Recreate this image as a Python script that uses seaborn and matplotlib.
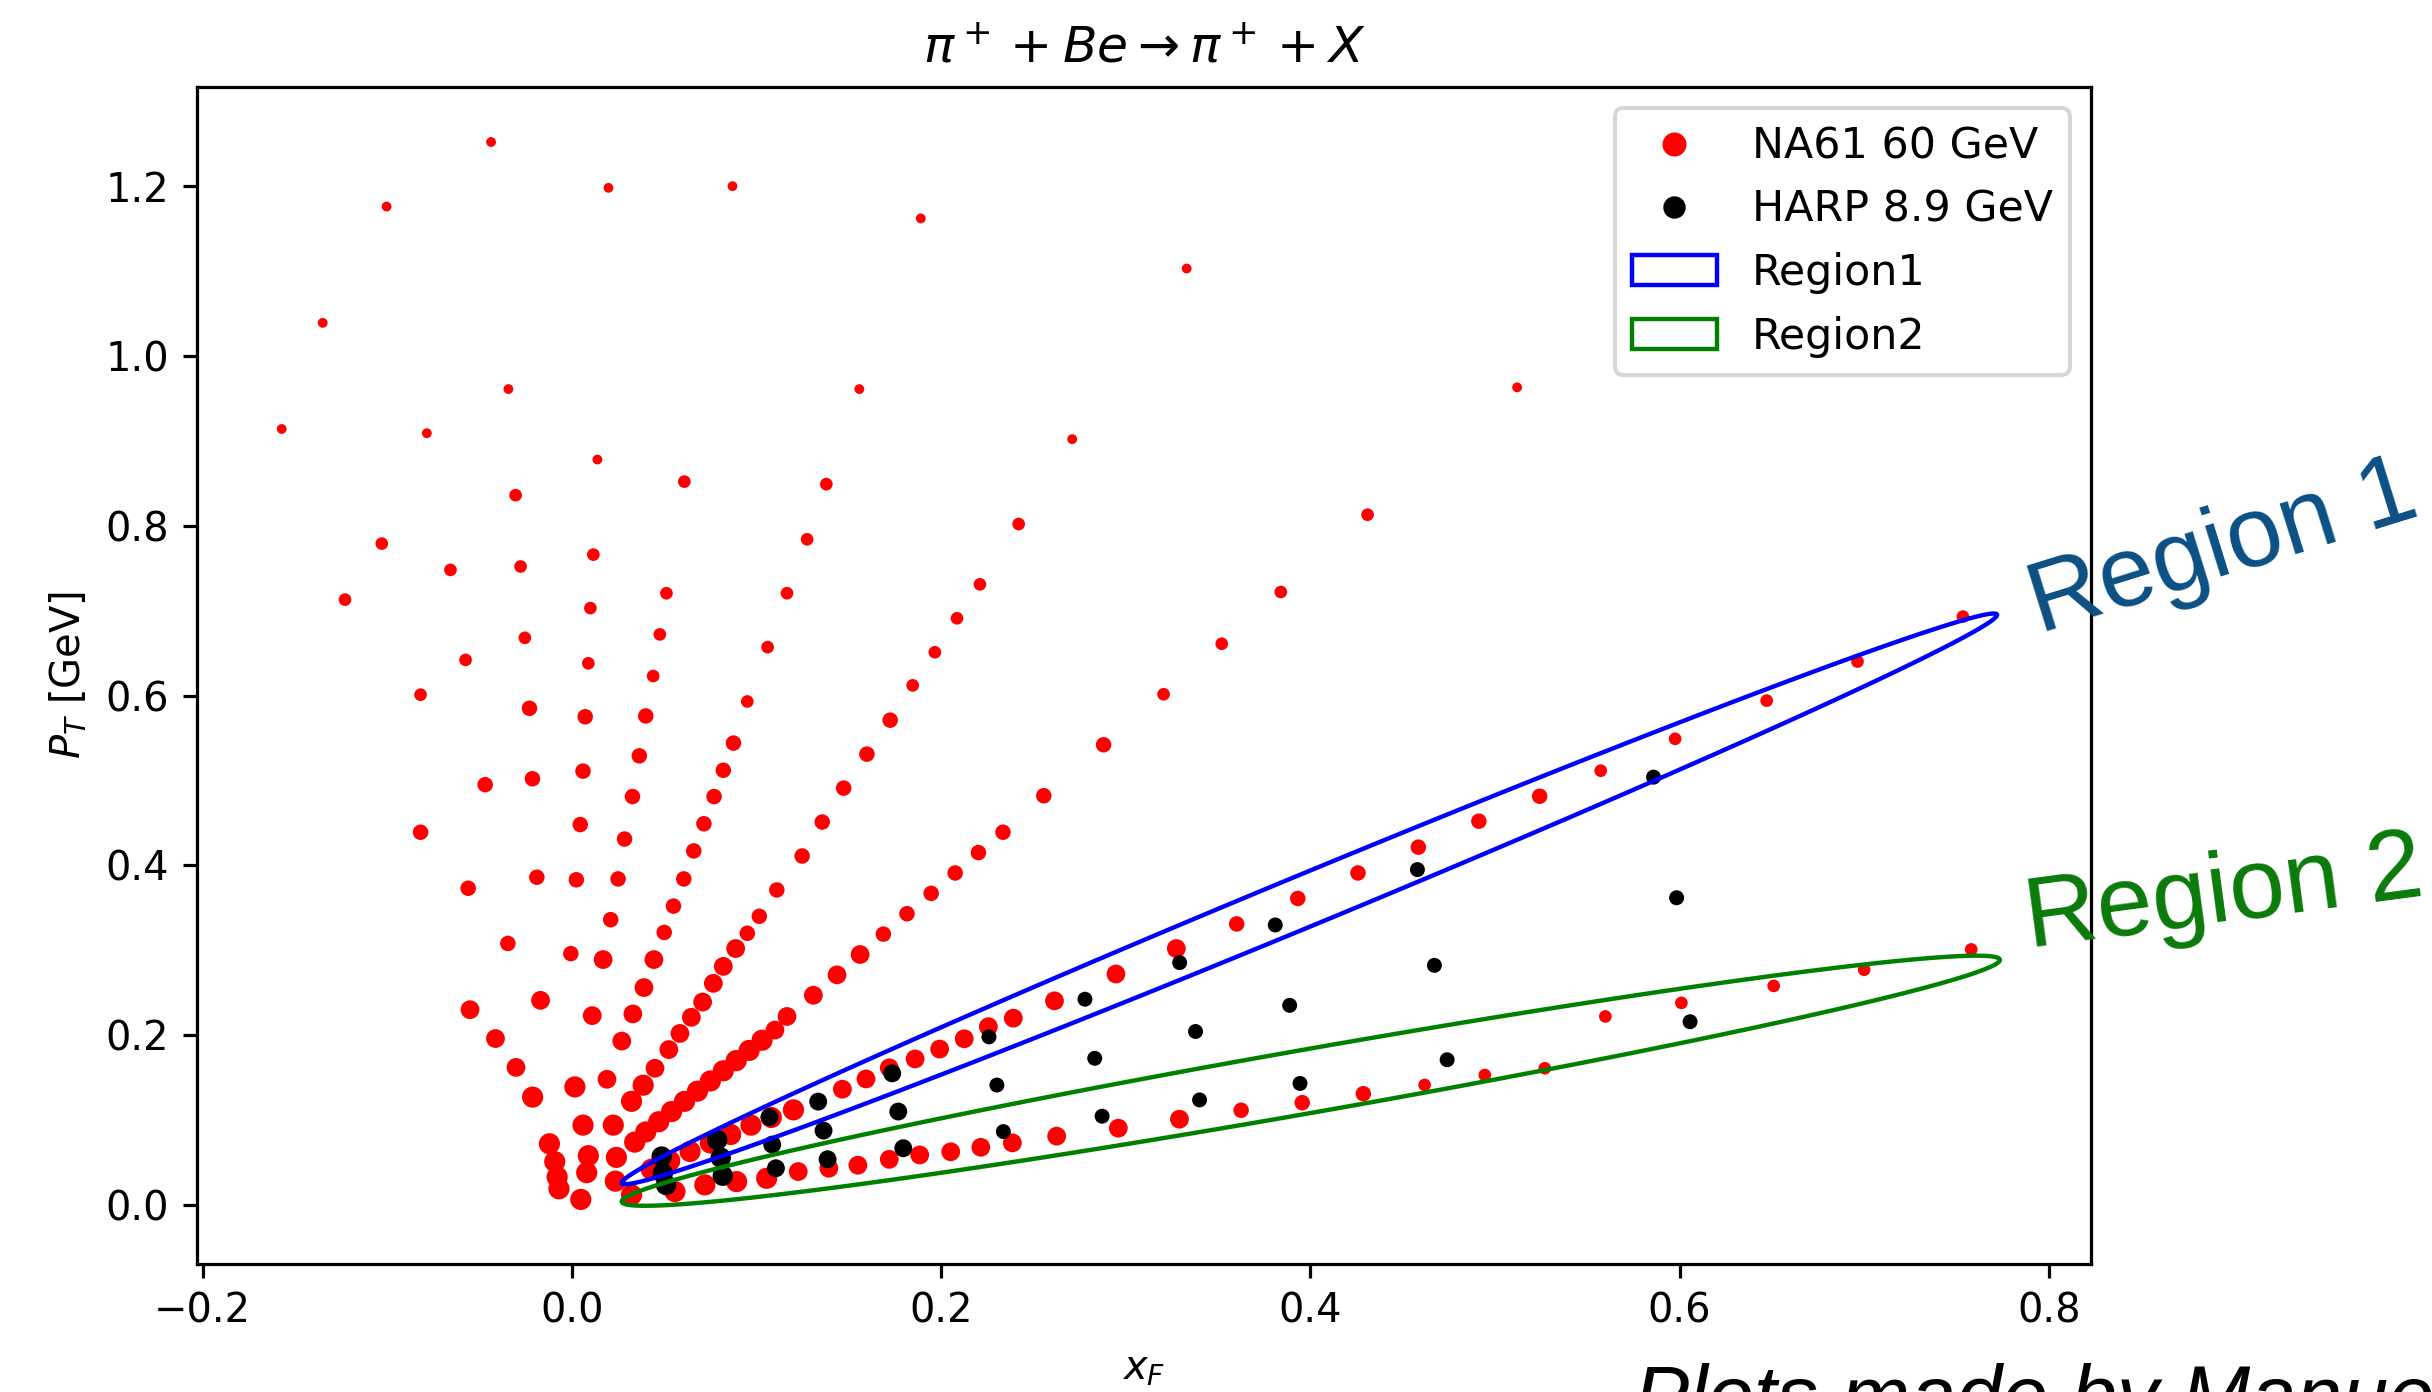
import matplotlib
matplotlib.use("Agg")
import matplotlib.pyplot as plt
from matplotlib.lines import Line2D
from matplotlib.patches import Polygon
import numpy as np
import pandas as pd
import seaborn as sns

# NA61 60 GeV points (xF, pT), grouped by how big the marker is drawn (a = largest)
na61_a = [(0.0016, 0.139), (-0.0213, 0.127), (0.0386, 0.141), (0.0323, 0.122),
          (0.006, 0.094), (0.0224, 0.094), (-0.0122, 0.072), (0.0089, 0.058),
          (0.0241, 0.056), (-0.0093, 0.051), (0.008, 0.038), (-0.008, 0.033),
          (0.0235, 0.028), (-0.007, 0.019), (0.0048, 0.0065), (0.0323, 0.0118),
          (0.103, 0.194), (0.096, 0.182), (0.089, 0.170), (0.082, 0.158),
          (0.075, 0.146), (0.068, 0.134), (0.061, 0.122), (0.054, 0.110),
          (0.047, 0.098), (0.040, 0.086), (0.034, 0.074),
          (0.120, 0.112), (0.108, 0.103), (0.097, 0.094), (0.086, 0.083),
          (0.075, 0.073), (0.064, 0.063), (0.053, 0.052), (0.043, 0.042),
          (0.1055, 0.0314), (0.0892, 0.0275), (0.072, 0.0236), (0.0558, 0.0157)]
na61_b = [(0.0169, 0.289), (0.0444, 0.289), (0.0887, 0.302), (0.1561, 0.295),
          (0.039, 0.256), (0.082, 0.281), (0.0766, 0.261), (0.1436, 0.271),
          (0.1308, 0.247), (-0.0552, 0.230), (-0.017, 0.241), (0.011, 0.223),
          (0.033, 0.225), (0.0708, 0.239), (0.0647, 0.221), (0.1165, 0.222),
          (-0.0414, 0.196), (0.027, 0.193), (0.0585, 0.202), (0.110, 0.206),
          (-0.0303, 0.162), (0.019, 0.148), (0.0525, 0.183), (0.045, 0.161),
          (0.3274, 0.302), (0.2947, 0.272), (0.2614, 0.2404), (0.2391, 0.220),
          (0.2256, 0.210), (0.2125, 0.1957), (0.1992, 0.1836), (0.1859, 0.172),
          (0.1719, 0.1615), (0.1593, 0.1484), (0.1465, 0.1363),
          (0.3291, 0.101), (0.2960, 0.0904), (0.2626, 0.0810), (0.2386, 0.0731),
          (0.2215, 0.0679), (0.2052, 0.0626), (0.1884, 0.0589), (0.1719, 0.0537),
          (0.1549, 0.0468), (0.1392, 0.0432), (0.1226, 0.0393)]
na61_c = [(-0.023, 0.585), (0.0072, 0.575), (0.040, 0.576), (0.0875, 0.544),
          (0.1724, 0.571), (0.288, 0.542), (-0.047, 0.495), (-0.0214, 0.502),
          (0.006, 0.511), (0.0365, 0.529), (0.082, 0.512), (0.1598, 0.531),
          (-0.082, 0.439), (0.0045, 0.448), (0.0328, 0.481), (0.077, 0.481),
          (0.1472, 0.491), (0.2556, 0.482), (0.0285, 0.431), (0.0715, 0.449),
          (0.1356, 0.451), (0.2335, 0.439), (-0.0562, 0.373), (-0.019, 0.386),
          (0.0024, 0.383), (0.025, 0.384), (0.066, 0.417), (0.1247, 0.411),
          (0.2202, 0.415), (0.021, 0.336), (0.0606, 0.384), (0.111, 0.371),
          (0.2076, 0.391), (-0.0347, 0.308), (-0.0006, 0.296), (0.055, 0.352),
          (0.1015, 0.340), (0.1946, 0.367), (0.050, 0.321), (0.095, 0.320),
          (0.1815, 0.343), (0.1687, 0.319),
          (0.5242, 0.4814), (0.4913, 0.452), (0.4585, 0.4214), (0.4258, 0.391),
          (0.3932, 0.361), (0.3601, 0.331),
          (0.4287, 0.131), (0.3956, 0.1204), (0.3625, 0.1115)]
na61_d = [(0.0609, 0.852), (0.1378, 0.849), (-0.0305, 0.836), (0.431, 0.813),
          (0.242, 0.802), (-0.103, 0.779), (0.1274, 0.784), (0.0116, 0.766),
          (-0.0658, 0.748), (-0.0278, 0.752), (0.221, 0.731), (0.384, 0.722),
          (-0.1229, 0.713), (0.1165, 0.7205), (0.0512, 0.7205), (0.010, 0.703),
          (-0.0255, 0.668), (-0.0576, 0.642), (0.0476, 0.672), (0.106, 0.657),
          (0.2086, 0.691), (0.352, 0.661), (-0.082, 0.601), (0.0089, 0.638),
          (0.044, 0.623), (0.095, 0.593), (0.1966, 0.651), (0.1846, 0.612),
          (0.3205, 0.6015),
          (0.7535, 0.693), (0.6964, 0.640), (0.6472, 0.594), (0.5976, 0.549),
          (0.5573, 0.5115),
          (0.5598, 0.222), (0.601, 0.238), (0.651, 0.258), (0.700, 0.277),
          (0.758, 0.301), (0.527, 0.161), (0.4945, 0.153), (0.4619, 0.1413)]
na61_e = [(-0.0438, 1.252), (-0.1004, 1.176), (0.0198, 1.198), (0.087, 1.200),
          (0.189, 1.162), (0.333, 1.103), (-0.135, 1.039), (-0.0344, 0.961),
          (0.1557, 0.961), (0.512, 0.963), (-0.1572, 0.914), (-0.0786, 0.909),
          (0.271, 0.902), (0.0138, 0.878)]

# HARP 8.9 GeV points (xF, pT)
harp_near = [(0.0486, 0.0569), (0.0492, 0.0373), (0.0510, 0.0235),
             (0.0787, 0.0765), (0.0806, 0.0557), (0.0817, 0.0344)]
harp_mid = [(0.1070, 0.1033), (0.1085, 0.0711), (0.1105, 0.0432),
            (0.1334, 0.1217), (0.1363, 0.0876), (0.1385, 0.0538),
            (0.1735, 0.1550), (0.1768, 0.1100), (0.1795, 0.0668)]
harp_far = [(0.2259, 0.1980), (0.2302, 0.1412), (0.2337, 0.0864),
            (0.2779, 0.2423), (0.2832, 0.1727), (0.2872, 0.1045),
            (0.3292, 0.2854), (0.3378, 0.2043), (0.3400, 0.1237),
            (0.3810, 0.3298), (0.3888, 0.2351), (0.3944, 0.1431),
            (0.4580, 0.3950), (0.4672, 0.2822), (0.4741, 0.1710),
            (0.5859, 0.5039), (0.5984, 0.3618), (0.6057, 0.2158)]

# selection regions: left end, right end, half height in pT
region1 = dict(left=(0.027, 0.026), right=(0.772, 0.695), half=0.033)
region2 = dict(left=(0.027, 0.004), right=(0.7735, 0.2886), half=0.038)


def to_frame(groups):
    rows = []
    for cls, pts in groups.items():
        for x, y in pts:
            rows.append({"xF": x, "pT": y, "cls": cls})
    return pd.DataFrame(rows)


def region_outline(reg, n=400):
    (x0, y0), (x1, y1) = reg["left"], reg["right"]
    cx, cy = (x0 + x1) / 2, (y0 + y1) / 2
    ux = (x1 - x0) / 2
    slope = (y1 - y0) / (x1 - x0)
    t = np.linspace(0, 2 * np.pi, n)
    xs = cx + ux * np.cos(t)
    ys = cy + slope * (xs - cx) + reg["half"] * np.sin(t)
    return np.column_stack([xs, ys])


na61 = to_frame({"a": na61_a, "b": na61_b, "c": na61_c, "d": na61_d, "e": na61_e})
harp = to_frame({"near": harp_near, "mid": harp_mid, "far": harp_far})

fig = plt.figure(figsize=(2432 / 288, 1392 / 288), dpi=288)
ax = fig.add_axes([0.081, 0.092, 0.7788, 0.8455])

sns.scatterplot(data=na61, x="xF", y="pT", size="cls",
                sizes={"a": 28, "b": 22, "c": 15, "d": 10, "e": 6},
                color="red", linewidth=0, legend=False, ax=ax, zorder=2)
sns.scatterplot(data=harp, x="xF", y="pT", size="cls",
                sizes={"near": 26, "mid": 20, "far": 14},
                color="black", linewidth=0, legend=False, ax=ax, zorder=3)

p1 = Polygon(region_outline(region1), closed=True, fill=False,
             edgecolor="blue", linewidth=1.1, label="Region1", zorder=4)
p2 = Polygon(region_outline(region2), closed=True, fill=False,
             edgecolor="green", linewidth=1.1, label="Region2", zorder=4)
ax.add_patch(p1)
ax.add_patch(p2)

ax.set_xlim(-0.2031, 0.8229)
ax.set_ylim(-0.0695, 1.3168)
ax.set_xlabel(r"$x_F$")
ax.set_ylabel(r"$P_T$ [GeV]")
ax.set_title(r"$\pi^+ + Be \rightarrow \pi^+ + X$", fontsize=12.6)

handles = [
    Line2D([], [], marker="o", ls="", color="red", markersize=5, label="NA61 60 GeV"),
    Line2D([], [], marker="o", ls="", color="black", markersize=4.6, label="HARP 8.9 GeV"),
    p1, p2,
]
ax.legend(handles=handles, loc="upper right", fontsize=10.7)

# annotations pasted next to the plot
fig.text(2040 / 2432, 1 - 634 / 1392, "Region 1", rotation=17.3, rotation_mode="anchor",
         ha="left", va="baseline", fontsize=25, color="#0B4F84",
         family=["Liberation Sans", "DejaVu Sans"])
fig.text(2029 / 2432, 1 - 948 / 1392, "Region 2", rotation=7.6, rotation_mode="anchor",
         ha="left", va="baseline", fontsize=25, color="#0A7A0A",
         family=["Liberation Sans", "DejaVu Sans"])
# footer credit, cut by the bottom edge as in the original
fig.text(1634 / 2432, -0.023, "Plots made by Manue", ha="left", va="baseline",
         fontsize=20.7, style="italic", color="black",
         family=["Liberation Sans", "DejaVu Sans"])

fig.savefig("out.png", dpi=288)
